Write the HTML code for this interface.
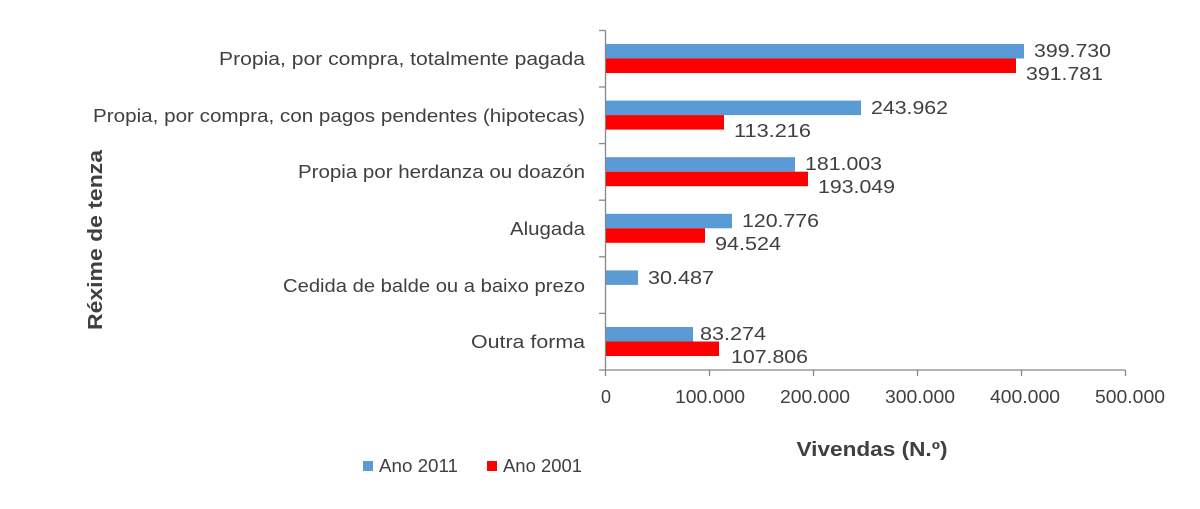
<!DOCTYPE html>
<html><head><meta charset="utf-8"><style>
body{margin:0;background:#fff}
svg text{font-family:"Liberation Sans",sans-serif;fill:#404040}
</style></head><body>
<svg width="1200" height="504" xmlns="http://www.w3.org/2000/svg">
<g stroke="#888" stroke-width="1.3" fill="none">
<line x1="605.5" y1="30.5" x2="605.5" y2="370"/>
<line x1="605.5" y1="370" x2="1125" y2="370"/>
<line x1="599" y1="30.5" x2="605.5" y2="30.5"/>
<line x1="599" y1="87" x2="605.5" y2="87"/>
<line x1="599" y1="143.6" x2="605.5" y2="143.6"/>
<line x1="599" y1="200.2" x2="605.5" y2="200.2"/>
<line x1="599" y1="256.8" x2="605.5" y2="256.8"/>
<line x1="599" y1="313.4" x2="605.5" y2="313.4"/>
<line x1="599" y1="370" x2="605.5" y2="370"/>
<line x1="605.5" y1="370" x2="605.5" y2="376"/>
<line x1="709.5" y1="370" x2="709.5" y2="376"/>
<line x1="813.5" y1="370" x2="813.5" y2="376"/>
<line x1="917.5" y1="370" x2="917.5" y2="376"/>
<line x1="1021.5" y1="370" x2="1021.5" y2="376"/>
<line x1="1125.5" y1="370" x2="1125.5" y2="376"/>
</g>
<g>
<rect x="606" y="44" width="418" height="14.5" fill="#5b9bd5"/>
<rect x="606" y="58.5" width="410" height="14.5" fill="#ff0000"/>
<rect x="606" y="100.6" width="255" height="14.5" fill="#5b9bd5"/>
<rect x="606" y="115.1" width="118" height="14.5" fill="#ff0000"/>
<rect x="606" y="157.2" width="189" height="14.5" fill="#5b9bd5"/>
<rect x="606" y="171.7" width="202" height="14.5" fill="#ff0000"/>
<rect x="606" y="213.8" width="126" height="14.5" fill="#5b9bd5"/>
<rect x="606" y="228.3" width="99" height="14.5" fill="#ff0000"/>
<rect x="606" y="270.4" width="32" height="14.5" fill="#5b9bd5"/>
<rect x="606" y="327" width="87" height="14.5" fill="#5b9bd5"/>
<rect x="606" y="341.5" width="113" height="14.5" fill="#ff0000"/>
</g>
<g font-size="18">
<text x="1034" y="57" textLength="77" lengthAdjust="spacingAndGlyphs">399.730</text>
<text x="1026" y="80" textLength="77" lengthAdjust="spacingAndGlyphs">391.781</text>
<text x="871" y="114" textLength="77" lengthAdjust="spacingAndGlyphs">243.962</text>
<text x="734" y="137" textLength="77" lengthAdjust="spacingAndGlyphs">113.216</text>
<text x="805" y="170" textLength="77" lengthAdjust="spacingAndGlyphs">181.003</text>
<text x="818" y="193" textLength="77" lengthAdjust="spacingAndGlyphs">193.049</text>
<text x="742" y="227" textLength="77" lengthAdjust="spacingAndGlyphs">120.776</text>
<text x="715" y="250" textLength="66" lengthAdjust="spacingAndGlyphs">94.524</text>
<text x="648" y="284" textLength="66" lengthAdjust="spacingAndGlyphs">30.487</text>
<text x="700" y="340" textLength="66" lengthAdjust="spacingAndGlyphs">83.274</text>
<text x="731" y="363" textLength="77" lengthAdjust="spacingAndGlyphs">107.806</text>
</g>
<g font-size="18" text-anchor="end">
<text x="585" y="65" textLength="366" lengthAdjust="spacingAndGlyphs">Propia, por compra, totalmente pagada</text>
<text x="585" y="122" textLength="492" lengthAdjust="spacingAndGlyphs">Propia, por compra, con pagos pendentes (hipotecas)</text>
<text x="585" y="178" textLength="287" lengthAdjust="spacingAndGlyphs">Propia por herdanza ou doazón</text>
<text x="585" y="235" textLength="75" lengthAdjust="spacingAndGlyphs">Alugada</text>
<text x="585" y="292" textLength="302" lengthAdjust="spacingAndGlyphs">Cedida de balde ou a baixo prezo</text>
<text x="585" y="348" textLength="114" lengthAdjust="spacingAndGlyphs">Outra forma</text>
</g>
<g font-size="18" text-anchor="middle">
<text x="606" y="403">0</text>
<text x="710" y="403" textLength="70" lengthAdjust="spacingAndGlyphs">100.000</text>
<text x="815" y="403" textLength="70" lengthAdjust="spacingAndGlyphs">200.000</text>
<text x="920" y="403" textLength="70" lengthAdjust="spacingAndGlyphs">300.000</text>
<text x="1025" y="403" textLength="70" lengthAdjust="spacingAndGlyphs">400.000</text>
<text x="1130" y="403" textLength="70" lengthAdjust="spacingAndGlyphs">500.000</text>
</g>
<text x="872" y="456" font-size="20" font-weight="bold" text-anchor="middle" textLength="151" lengthAdjust="spacingAndGlyphs">Vivendas (N.º)</text>
<text transform="translate(102,240) rotate(-90)" font-size="20" font-weight="bold" text-anchor="middle" textLength="180" lengthAdjust="spacingAndGlyphs">Réxime de tenza</text>
<rect x="363" y="461" width="10" height="10" fill="#5b9bd5"/>
<text x="379" y="472" font-size="18" textLength="79" lengthAdjust="spacingAndGlyphs">Ano 2011</text>
<rect x="487" y="461" width="10" height="10" fill="#ff0000"/>
<text x="503" y="472" font-size="18" textLength="79" lengthAdjust="spacingAndGlyphs">Ano 2001</text>
</svg>
</body></html>
